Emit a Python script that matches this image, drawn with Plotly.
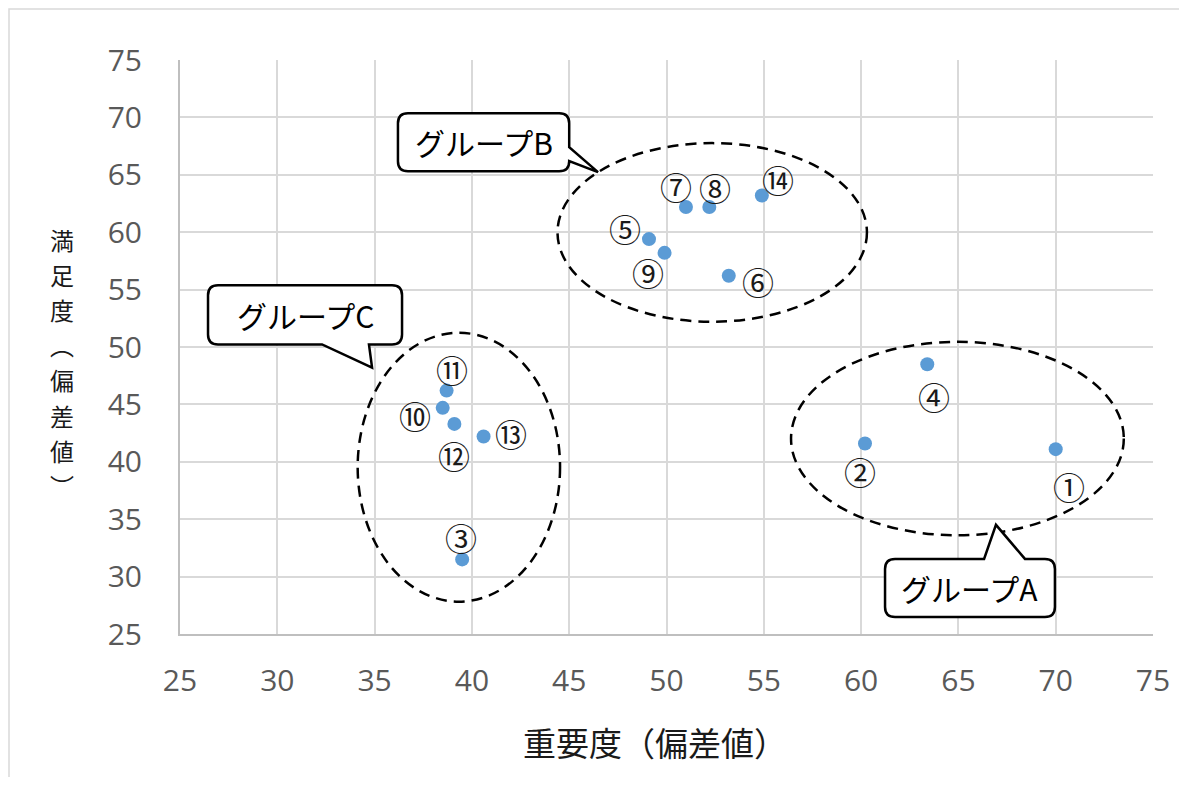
import plotly.graph_objects as go

# ---- data ----
labels = ["①", "②", "③", "④", "⑤", "⑥", "⑦", "⑧", "⑨", "⑩", "⑪", "⑫", "⑬", "⑭"]
importance = [70.0, 60.2, 39.5, 63.4, 49.1, 53.2, 51.0, 52.2, 49.9, 38.5, 38.7, 39.1, 40.6, 54.9]
satisfaction = [41.1, 41.6, 31.5, 48.5, 59.4, 56.2, 62.2, 62.2, 58.2, 44.7, 46.2, 43.3, 42.2, 63.2]
x_ticks = [25, 30, 35, 40, 45, 50, 55, 60, 65, 70, 75]
y_ticks = [25, 30, 35, 40, 45, 50, 55, 60, 65, 70, 75]
x_title = "重要度（偏差値）"
y_title_chars = ["満", "足", "度", "︵", "偏", "差", "値", "︶"]

# groups: ellipse extents (data units), callout box, tail, text
groups = [
    dict(name="グループA", ell=(56.4, 73.5, 33.6, 50.45),
         box=(61.23, 69.96, 26.48, 31.54), side="top",
         tail=[(66.32, 31.54), (66.93, 34.51), (68.42, 31.54)]),
    dict(name="グループB", ell=(44.4, 60.3, 52.2, 67.76),
         box=(36.2, 45.0, 65.31, 70.37), side="right",
         tail=[(45.0, 67.41), (46.48, 65.23), (45.0, 66.19)]),
    dict(name="グループC", ell=(34.13, 44.53, 27.82, 51.24),
         box=(26.44, 36.41, 50.22, 55.37), side="bottom",
         tail=[(32.30, 50.22), (34.87, 48.21), (34.71, 50.22)]),
]

# label offsets in pixels (style)
label_offsets = [(13, -37), (-5, -28), (-1, 22), (7, -32), (-24, 11), (29, -5), (-10, 21),
                 (6, 20), (-17, -19), (-28, -7), (5, 22), (0, -31), (27, 4), (16, 16)]

# page body has an 8px margin -> compensate
OFF = 8
W, H = 1187 - 2 * OFF, 785 - 2 * OFF
# target plot area in screenshot px: left 180, right 1153, top 60, bottom 634
ML = 180 - OFF
MT = 60 - OFF
MR = (W + OFF) - 1153
MB = (H + OFF) - 634
PW = 1153 - 180
PH = 634 - 60
XR = (25, 75)
YR = (25, 75)
ux = (XR[1] - XR[0]) / PW   # data per px
uy = (YR[1] - YR[0]) / PH


def px_x(p):  # screenshot px -> paper x
    return (p - 180) / PW


def px_y(p):  # screenshot px -> paper y
    return (634 - p) / PH


JP = "Noto Sans CJK JP"

fig = go.Figure()
fig.add_trace(go.Scatter(
    x=importance, y=satisfaction, mode="markers",
    marker=dict(color="#5b9bd5", size=14),
    hoverinfo="x+y", showlegend=False))

shapes = []
annotations = []

# outer chart border (kept inside the figure)
shapes.append(dict(type="rect", xref="paper", yref="paper",
                   x0=px_x(9), x1=px_x(1200), y0=px_y(800), y1=px_y(9),
                   line=dict(color="#d9d9d9", width=1.5), fillcolor="rgba(0,0,0,0)", layer="below"))


def callout_path(box, side, tail):
    x0, x1, y0, y1 = box
    rx, ry = 10 * ux, 10 * uy
    p = [f"M{x0 + rx},{y1}"]
    if side == "top":
        for (tx, ty) in tail:
            p.append(f"L{tx},{ty}")
    p.append(f"L{x1 - rx},{y1}")
    p.append(f"Q{x1},{y1} {x1},{y1 - ry}")
    if side == "right":
        for (tx, ty) in tail:
            p.append(f"L{tx},{ty}")
    p.append(f"L{x1},{y0 + ry}")
    p.append(f"Q{x1},{y0} {x1 - rx},{y0}")
    if side == "bottom":
        for (tx, ty) in reversed(tail):
            p.append(f"L{tx},{ty}")
    p.append(f"L{x0 + rx},{y0}")
    p.append(f"Q{x0},{y0} {x0},{y0 + ry}")
    p.append(f"L{x0},{y1 - ry}")
    p.append(f"Q{x0},{y1} {x0 + rx},{y1}")
    p.append("Z")
    return " ".join(p)


for g in groups:
    ex0, ex1, ey0, ey1 = g["ell"]
    shapes.append(dict(type="circle", xref="x", yref="y", x0=ex0, x1=ex1, y0=ey0, y1=ey1,
                       line=dict(color="black", width=2.5, dash="11px,7px"),
                       fillcolor="rgba(0,0,0,0)", layer="above"))
for g in groups:
    shapes.append(dict(type="path", xref="x", yref="y",
                       path=callout_path(g["box"], g["side"], g["tail"]),
                       line=dict(color="black", width=2.5), fillcolor="white", layer="above"))
    bx0, bx1, by0, by1 = g["box"]
    annotations.append(dict(x=(bx0 + bx1) / 2, y=(by0 + by1) / 2, xref="x", yref="y",
                            xanchor="center", yanchor="middle",
                            text=g["name"], showarrow=False,
                            font=dict(family=JP, size=30, color="black")))

for lab, xv, yv, (dx, dy) in zip(labels, importance, satisfaction, label_offsets):
    annotations.append(dict(x=xv, y=yv, xref="x", yref="y", text=lab, showarrow=False,
                            xanchor="center", yanchor="middle",
                            xshift=dx, yshift=dy,
                            font=dict(family=JP, size=32, color="#1a1a1a")))

# axis titles
annotations.append(dict(x=px_x(655), y=px_y(742), xref="paper", yref="paper",
                        xanchor="center", yanchor="middle",
                        text=x_title, showarrow=False,
                        font=dict(family=JP, size=33, color="#1a1a1a")))
# vertical y title: line pitch from base size 27 (1.3em ~ 35px), glyphs at 24px
y_title_text = "<br>".join(f'<span style="font-size:24px">{c}</span>' for c in y_title_chars)
annotations.append(dict(x=px_x(62), y=px_y(362), xref="paper", yref="paper",
                        xanchor="center", yanchor="middle",
                        text=y_title_text, showarrow=False, align="center",
                        font=dict(family=JP, size=27, color="#1a1a1a")))

axis_common = dict(showgrid=True, gridcolor="#d9d9d9", gridwidth=1.5,
                   showline=True, linecolor="#bfbfbf", linewidth=2,
                   zeroline=False, ticks="", automargin=False,
                   tickfont=dict(family="Open Sans", size=30, color="#595959"))

fig.update_layout(
    width=W, height=H,
    margin=dict(l=ML, r=MR, t=MT, b=MB, pad=0),
    paper_bgcolor="white", plot_bgcolor="white",
    xaxis=dict(range=list(XR), tickvals=x_ticks, ticktext=[str(v) for v in x_ticks],
               ticklabelstandoff=19, **axis_common),
    yaxis=dict(range=list(YR), tickvals=y_ticks, ticktext=[str(v) for v in y_ticks],
               ticklabelstandoff=30, **axis_common),
    shapes=shapes, annotations=annotations,
)

fig.write_html("out.html")
